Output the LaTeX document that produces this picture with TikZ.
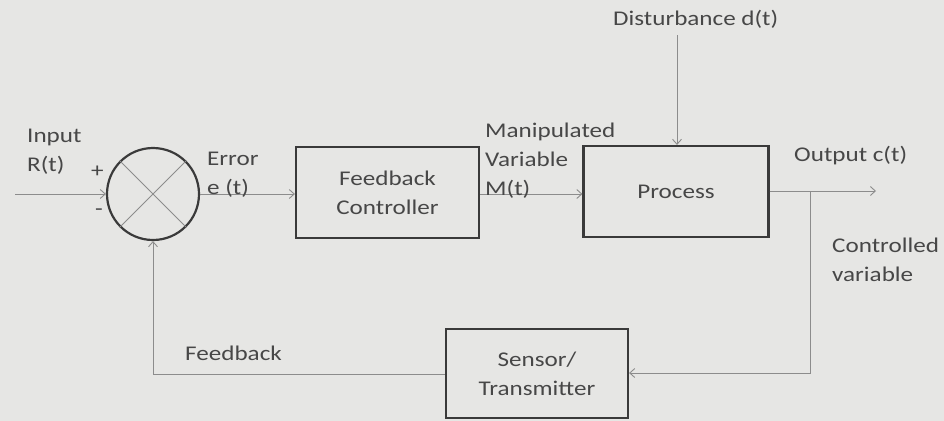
\documentclass[tikz,border=0pt]{standalone}
\usepackage{fontspec}
\setmainfont{Carlito}[FakeStretch=1.2]
\usetikzlibrary{arrows.meta}
\definecolor{paper}{HTML}{E6E6E4}
\definecolor{ink}{HTML}{474747}
\definecolor{frame}{HTML}{3A3A3A}
\definecolor{wire}{HTML}{8C8C8C}
\begin{document}
\begin{tikzpicture}[x=1bp,y=-1bp,
  font=\fontsize{21}{29}\selectfont,
  block/.style={draw=frame,line width=2.2pt,text=ink,align=center,inner sep=0pt},
  lbl/.style={text=ink,align=left,inner sep=0pt,anchor=west},
  sig/.style={draw=wire,line width=0.9pt,-{Straight Barb[length=5pt,width=9pt]}}]
  % canvas
  \useasboundingbox (0,0) rectangle (944,420);
  \fill[paper] (-3,-3) rectangle (947,423);

  % blocks
  \node[block,minimum width=183bp,minimum height=91bp] (ctrl) at (387.5,192.5) {Feedback\\Controller};
  \node[block,minimum width=185bp,minimum height=91bp] (proc) at (676,191.5) {Process};
  \node[block,minimum width=182bp,minimum height=89bp] (sens) at (537,373.5) {Sensor/\\Transmitter};

  % summing junction
  \node[circle,draw=frame,line width=2.2pt,minimum size=92bp,inner sep=0pt] (sum) at (153,194) {};
  \draw[wire,line width=0.8pt] (sum.45) -- (sum.225) (sum.135) -- (sum.315);

  % coordinates for free ends and corners
  \coordinate (in) at (15,194);
  \coordinate (dist) at (677,35);
  \coordinate (tap) at (810,191);
  \coordinate (out) at (876,191);
  \coordinate (down) at (810,373);
  \coordinate (fbcorner) at (153,374);

  % signal paths
  \draw[sig] (in) -- (sum.west);
  \draw[sig] (sum.east) -- (ctrl.west |- sum.east);
  \draw[sig] (ctrl.east |- 0,194) -- (proc.west |- 0,194);
  \draw[sig] (dist) -- (proc.north -| dist);
  \draw[sig] (proc.east |- tap) -- (out);
  \draw[sig] (tap) -- (down) -- (sens.east |- down);
  \draw[sig] (sens.west |- fbcorner) -- (fbcorner) -- (sum.south);

  % labels
  \node[lbl] (linput) at (27,152) {Input\\R(t)};
  \node[lbl] (lplus) at (91,172) {+};
  \node[lbl] (lminus) at (95,212) {-};
  \node[lbl] (lerr) at (207,175) {Error\\e (t)};
  \node[lbl] (lman) at (485,161) {Manipulated\\Variable\\M(t)};
  \node[lbl] (ldist) at (613,19) {Disturbance d(t)};
  \node[lbl] (lout) at (794,156) {Output c(t)};
  \node[lbl] (lcv) at (832,260) {Controlled\\variable};
  \node[lbl] (lfb) at (185,353) {Feedback};
\end{tikzpicture}
\end{document}
